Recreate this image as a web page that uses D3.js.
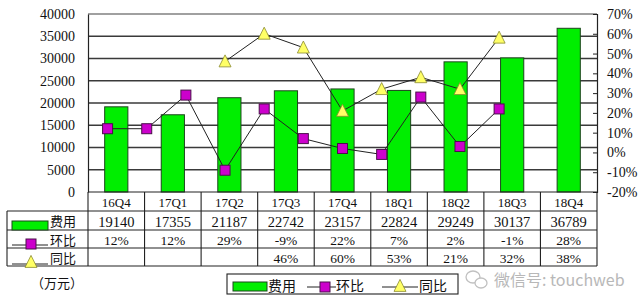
<!DOCTYPE html>
<html>
<head>
<meta charset="utf-8">
<script src="https://cdn.jsdelivr.net/npm/d3@7"></script>
<style>
  body { margin: 0; background: #fff; }
  text { font-family: "Liberation Serif", "Noto Sans CJK SC", serif; fill: #111; }
  .cjk { font-family: "Noto Sans CJK SC", sans-serif; }
</style>
</head>
<body>
<svg id="chart" width="640" height="308"></svg>
<script>
const categories = ["16Q4", "17Q1", "17Q2", "17Q3", "17Q4", "18Q1", "18Q2", "18Q3", "18Q4"];
const costs = [19140, 17355, 21187, 22742, 23157, 22824, 29249, 30137, 36789];
const qoqLabels = ["12%", "12%", "29%", "-9%", "22%", "7%", "2%", "-1%", "28%"];
const yoyLabels = ["", "", "", "46%", "60%", "53%", "21%", "32%", "38%"];
// the line series sit on their own 13-slot category axis in the source chart
const qoqPoints = [12, 12, 29, -9, 22, 7, 2, -1, 28, 3, 22];
const yoyPoints = [null, null, null, 46, 60, 53, 21, 32, 38, 32, 58];
const lineSlots = 13;
const leftTicks = [0, 5000, 10000, 15000, 20000, 25000, 30000, 35000, 40000];
const rightTicks = [-20, -10, 0, 10, 20, 30, 40, 50, 60, 70];

const green = "#00ee00", magenta = "#cc00cc", yellow = "#ffff66";

const plot = { left: 88, right: 597, top: 14, bottom: 192 };
const rowY = [192, 211, 230, 248, 266];

const svg = d3.select("#chart");

const x = d3.scaleBand().domain(categories).range([plot.left, plot.right]).padding(0);
const xl = d3.scaleBand().domain(d3.range(lineSlots)).range([plot.left, plot.right]).padding(0);
const yL = d3.scaleLinear().domain([0, 40000]).range([plot.bottom, plot.top]);
const yR = d3.scaleLinear().domain([-20, 70]).range([plot.bottom, plot.top]);

// gridlines
svg.append("g")
  .selectAll("line")
  .data(leftTicks.slice(1, -1))
  .enter()
  .append("line")
  .attr("x1", plot.left).attr("x2", plot.right)
  .attr("y1", (d) => yL(d)).attr("y2", (d) => yL(d))
  .attr("stroke", "#3a3a3a").attr("stroke-width", 1.4);

svg.append("line")
  .attr("x1", plot.left).attr("x2", plot.right)
  .attr("y1", plot.top).attr("y2", plot.top)
  .attr("stroke", "#a0a0a0").attr("stroke-width", 2);

// left axis
const yAxisL = svg.append("g")
  .attr("transform", `translate(${plot.left},0)`)
  .call(d3.axisLeft(yL).tickValues(leftTicks).tickSize(0).tickPadding(13).tickFormat(d3.format("d")));
yAxisL.select(".domain").attr("stroke", "#222").attr("stroke-width", 1.2);
yAxisL.selectAll("text").attr("font-size", 14).attr("font-family", "Liberation Serif").attr("fill", "#111");

// right axis
const yAxisR = svg.append("g")
  .attr("transform", `translate(${plot.right},0)`)
  .call(d3.axisRight(yR).tickValues(rightTicks).tickSize(-4).tickPadding(10).tickFormat((d) => d + "%"));
yAxisR.select(".domain").attr("stroke", "#222").attr("stroke-width", 1.2);
yAxisR.selectAll("line").attr("stroke", "#222");
yAxisR.selectAll("text").attr("font-size", 14).attr("font-family", "Liberation Serif").attr("fill", "#111");

// bars
const barW = x.bandwidth() * 0.41;
svg.append("g")
  .selectAll("rect")
  .data(costs)
  .enter()
  .append("rect")
  .attr("x", (d, i) => x(categories[i]) + (x.bandwidth() - barW) / 2)
  .attr("y", (d) => yL(d))
  .attr("width", barW)
  .attr("height", (d) => plot.bottom - yL(d))
  .attr("fill", green)
  .attr("stroke", "#1d441d")
  .attr("stroke-width", 1);

// lines
const cx = (i) => xl(i) + xl.bandwidth() / 2;
const line = d3.line()
  .defined((d) => d != null)
  .x((d, i) => cx(i))
  .y((d) => yR(d));

svg.append("path").datum(qoqPoints).attr("d", line)
  .attr("fill", "none").attr("stroke", "#222").attr("stroke-width", 1);
svg.append("path").datum(yoyPoints).attr("d", line)
  .attr("fill", "none").attr("stroke", "#222").attr("stroke-width", 1);

const tri = (px, py, s) => `M${px},${py - s * 0.55}L${px + s / 2},${py + s * 0.45}L${px - s / 2},${py + s * 0.45}Z`;

function square(g, px, py) {
  g.append("rect")
    .attr("x", px - 5).attr("y", py - 5).attr("width", 10).attr("height", 10)
    .attr("fill", magenta).attr("stroke", "#4a104a").attr("stroke-width", 1);
}
function triangle(g, px, py) {
  g.append("path").attr("d", tri(px, py, 12))
    .attr("fill", yellow).attr("stroke", "#8a8a30").attr("stroke-width", 0.8);
}

const marks = svg.append("g");
qoqPoints.forEach((d, i) => { if (d != null) square(marks, cx(i), yR(d)); });
yoyPoints.forEach((d, i) => { if (d != null) triangle(marks, cx(i), yR(d)); });

// data table
const table = svg.append("g").attr("stroke", "#222").attr("stroke-width", 1.1);
table.append("line").attr("x1", plot.left).attr("x2", plot.right).attr("y1", rowY[0]).attr("y2", rowY[0]);
rowY.slice(1).forEach((yy) => {
  table.append("line").attr("x1", 7).attr("x2", plot.right).attr("y1", yy).attr("y2", yy);
});
table.append("line").attr("x1", 7).attr("x2", 7).attr("y1", rowY[1]).attr("y2", rowY[4]);
categories.forEach((c) => {
  table.append("line").attr("x1", x(c)).attr("x2", x(c)).attr("y1", rowY[0]).attr("y2", rowY[4]);
});
table.append("line").attr("x1", plot.right).attr("x2", plot.right).attr("y1", rowY[0]).attr("y2", rowY[4]);

function rowText(values, rowIdx, size) {
  svg.append("g")
    .selectAll("text")
    .data(values)
    .enter()
    .append("text")
    .attr("x", (d, i) => x(categories[i]) + x.bandwidth() / 2)
    .attr("y", (rowY[rowIdx] + rowY[rowIdx + 1]) / 2 + size * 0.36 + 1)
    .attr("text-anchor", "middle")
    .attr("font-size", size)
    .text((d) => d);
}
rowText(categories, 0, 13);
rowText(costs, 1, 14.5);
rowText(qoqLabels, 2, 13.5);
rowText(yoyLabels, 3, 13.5);

// row headers with legend keys
const head = svg.append("g");
head.append("rect").attr("x", 12).attr("y", 221).attr("width", 36).attr("height", 9)
  .attr("fill", green).attr("stroke", "#1d441d");
head.append("line").attr("x1", 12).attr("x2", 48).attr("y1", 245).attr("y2", 245).attr("stroke", "#222");
square(head, 31, 244);
head.append("line").attr("x1", 12).attr("x2", 48).attr("y1", 264).attr("y2", 264).attr("stroke", "#222");
triangle(head, 31, 262);
[["费用", 226], ["环比", 245], ["同比", 263]].forEach(([t, yy]) => {
  head.append("text").attr("class", "cjk").attr("x", 50).attr("y", yy).attr("font-size", 13).text(t);
});

// unit label
svg.append("text").attr("class", "cjk").attr("x", 31).attr("y", 288).attr("font-size", 13).text("（万元）");

// bottom legend
const lg = svg.append("g");
lg.append("rect").attr("x", 227).attr("y", 274).attr("width", 231).attr("height", 20)
  .attr("fill", "#fff").attr("stroke", "#222").attr("stroke-width", 1.1);
lg.append("rect").attr("x", 233).attr("y", 282).attr("width", 34).attr("height", 9)
  .attr("fill", green).attr("stroke", "#1d441d");
lg.append("text").attr("class", "cjk").attr("x", 268).attr("y", 291).attr("font-size", 14).text("费用");
lg.append("line").attr("x1", 307).attr("x2", 336).attr("y1", 287).attr("y2", 287).attr("stroke", "#222");
square(lg, 325, 287);
lg.append("text").attr("class", "cjk").attr("x", 336).attr("y", 291).attr("font-size", 14).text("环比");
lg.append("line").attr("x1", 382).attr("x2", 418).attr("y1", 287).attr("y2", 287).attr("stroke", "#222");
triangle(lg, 400, 286);
lg.append("text").attr("class", "cjk").attr("x", 419).attr("y", 291).attr("font-size", 14).text("同比");

// watermark
const wm = svg.append("g").attr("fill", "none").attr("stroke", "#c0c0c0").attr("stroke-width", 1.3);
wm.append("ellipse").attr("cx", 473).attr("cy", 277).attr("rx", 7).attr("ry", 6);
wm.append("ellipse").attr("cx", 481).attr("cy", 283).attr("rx", 6).attr("ry", 5).attr("fill", "#fff");
svg.append("text").attr("class", "cjk").attr("x", 494).attr("y", 286).attr("font-size", 16)
  .style("fill", "#b8b8b8").text("微信号: touchweb");
</script>
</body>
</html>
